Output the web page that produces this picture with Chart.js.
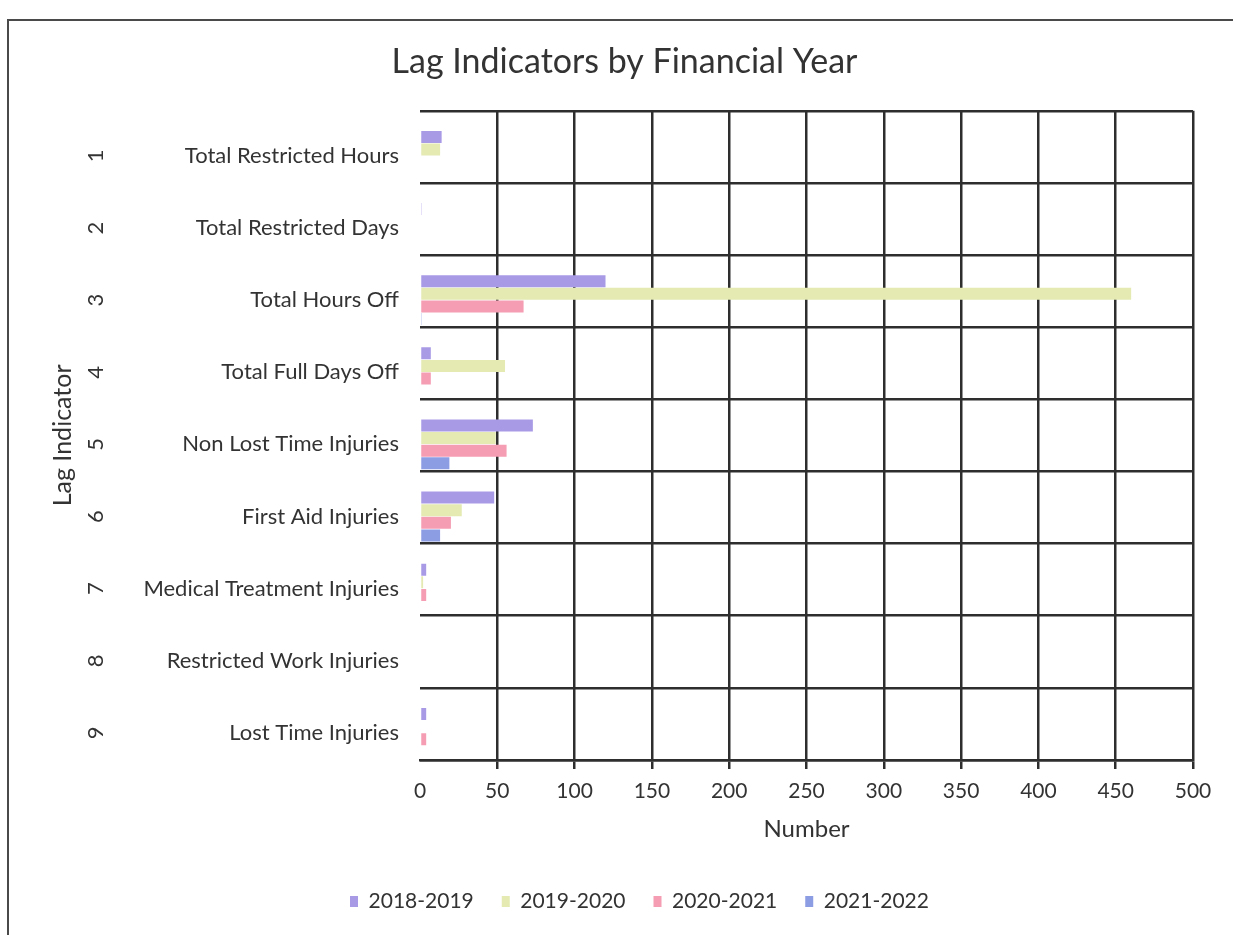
<!DOCTYPE html>
<html>
<head>
<meta charset="utf-8">
<script src="https://cdn.jsdelivr.net/npm/chart.js@4/dist/chart.umd.min.js"></script>
<style>
  html, body { margin: 0; padding: 0; background: #ffffff; }
  #wrap { position: relative; width: 1233px; height: 935px; overflow: hidden; }
  #chart { position: absolute; left: 0; top: 0; }
  #frame {
    position: absolute; left: 7px; top: 19px; width: 1300px; height: 1000px;
    border-top: 2px solid #4a4a4a; border-left: 2px solid #4a4a4a;
    pointer-events: none;
  }
</style>
</head>
<body>
<div id="wrap">
  <canvas id="chart" width="1233" height="935"></canvas>
  <div id="frame"></div>
</div>
<script>
// Lag indicators, one row each, numbered 1-9
const indicatorNumbers = ['1', '2', '3', '4', '5', '6', '7', '8', '9'];
const indicatorNames = [
  'Total Restricted Hours',
  'Total Restricted Days',
  'Total Hours Off',
  'Total Full Days Off',
  'Non Lost Time Injuries',
  'First Aid Injuries',
  'Medical Treatment Injuries',
  'Restricted Work Injuries',
  'Lost Time Injuries'
];

// Counts per financial year
const fy2018_2019 = [14, 1, 120, 7, 73, 48, 4, 0, 4];
const fy2019_2020 = [13, 0, 460, 55, 49, 27, 2, 0, 0];
const fy2020_2021 = [0, 0, 67, 7, 56, 20, 4, 0, 4];
const fy2021_2022 = [0, 0, 1, 0, 19, 13, 0, 0, 0];

const seriesNames = ['2018-2019', '2019-2020', '2020-2021', '2021-2022'];
const seriesColors = ['#a99ae6', '#e4eab2', '#f59db2', '#8d9de4'];

const axisX = [0, 500];
const axisStep = 50;

const FONT = 'Lato, "Open Sans", sans-serif';
const TEXT = '#333333';
const LINE = '#2e2e2e';

// The bars and their names sit a little below the centre of each ruled row
const bandOffset = 9;

const seriesValues = [fy2018_2019, fy2019_2020, fy2020_2021, fy2021_2022];

const rowBands = {
  id: 'rowBands',
  afterLayout(chart) {
    const s = chart.scales.y;
    s.top += bandOffset;
    s.bottom += bandOffset;
    s.configure();
    // nudge the centred title and legend to the right
    if (chart.legend) { chart.legend.left += 21; chart.legend.right += 21; }
    if (chart.titleBlock) { chart.titleBlock.left += 6; chart.titleBlock.right += 6; }
  }
};

new Chart(document.getElementById('chart'), {
  type: 'bar',
  data: {
    labels: indicatorNames,
    datasets: seriesNames.map((name, i) => ({
      label: name,
      data: seriesValues[i],
      backgroundColor: seriesColors[i],
      borderWidth: 0,
      categoryPercentage: 0.7,
      barPercentage: 0.95,
      yAxisID: 'y'
    }))
  },
  plugins: [rowBands],
  options: {
    indexAxis: 'y',
    responsive: false,
    animation: false,
    layout: { padding: { left: 44, right: 40, top: 28, bottom: 13 } },
    plugins: {
      title: {
        display: true,
        text: 'Lag Indicators by Financial Year',
        color: TEXT,
        font: { family: FONT, size: 34, weight: 'normal' },
        padding: { top: 14, bottom: 28 }
      },
      legend: {
        position: 'bottom',
        labels: {
          color: TEXT,
          font: { family: FONT, size: 21 },
          boxWidth: 8,
          boxHeight: 11,
          padding: 28
        }
      },
      tooltip: { enabled: false }
    },
    scales: {
      x: {
        type: 'linear',
        min: axisX[0],
        max: axisX[1],
        position: 'bottom',
        ticks: {
          stepSize: axisStep,
          color: TEXT,
          font: { family: FONT, size: 21 },
          padding: 10
        },
        grid: {
          color: ctx => (ctx.index === 0 ? 'rgba(0,0,0,0)' : LINE),
          lineWidth: 2.5,
          tickLength: 9,
          drawTicks: true
        },
        border: { display: true, color: LINE, width: 2.5 },
        title: {
          display: true,
          text: 'Number',
          color: TEXT,
          font: { family: FONT, size: 24 },
          padding: { top: 4, bottom: 19 }
        },
        afterFit: scale => { scale.height = 103; }
      },
      y: {
        type: 'category',
        position: 'left',
        weight: 0,
        offset: true,
        ticks: {
          color: TEXT,
          font: { family: FONT, size: 22 },
          padding: 13
        },
        grid: { display: false },
        border: { display: false },
        afterFit: scale => { scale.width = 300; }
      },
      y2: {
        type: 'category',
        position: 'left',
        weight: 1,
        offset: true,
        labels: indicatorNumbers,
        ticks: {
          color: TEXT,
          font: { family: FONT, size: 22 },
          minRotation: 90,
          maxRotation: 90,
          crossAlign: 'center',
          labelOffset: bandOffset,
          padding: 18
        },
        grid: {
          offset: true,
          color: LINE,
          lineWidth: 2.5,
          drawTicks: false
        },
        border: { display: false },
        title: {
          display: true,
          text: 'Lag Indicator',
          color: TEXT,
          font: { family: FONT, size: 25 },
          padding: { top: 4, bottom: 4 }
        },
        afterFit: scale => { scale.width = 76; }
      }
    }
  }
});
</script>
</body>
</html>
